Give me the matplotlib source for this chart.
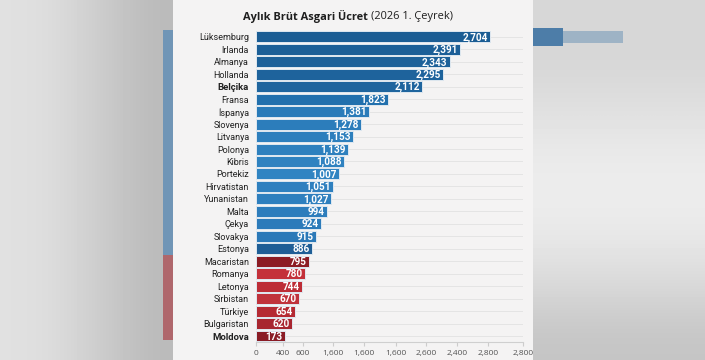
import numpy as np
import matplotlib
matplotlib.use("Agg")
from matplotlib import pyplot as plt
from matplotlib.patches import Rectangle

# data
countries = ["Lüksemburg", "Irlanda", "Almanya", "Hollanda", "Belçika", "Fransa",
             "İspanya", "Slovenya", "Litvanya", "Polonya", "Kibris", "Portekiz",
             "Hirvatistan", "Yunanistan", "Malta", "Çekya", "Slovakya", "Estonya",
             "Macaristan", "Romanya", "Letonya", "Sirbistan", "Türkiye",
             "Bulgaristan", "Moldova"]
wage_labels = ["2,704", "2,391", "2,343", "2,295", "2,112", "1,823", "1,381",
               "1,278", "1,153", "1,139", "1,088", "1,007", "1,051", "1,027",
               "994", "924", "915", "886", "795", "780", "744", "670", "654",
               "620", "173"]
# drawn bar lengths on the (odd) axis of the original chart
bar_lengths = [2454, 2139, 2034, 1961, 1741, 1384, 1185, 1101, 1017, 965, 923,
               870, 807, 787, 745, 682, 629, 587, 556, 514, 482, 451, 409, 378,
               304]
tick_pos = [0, 283, 492, 807, 1132, 1468, 1783, 2108, 2433, 2800]
tick_labels = ["0", "400", "600", "1,600", "1,600", "1,600", "2,600", "2,400",
               "2,800", "2,800"]
bold_rows = ["Belçika", "Moldova"]

bar_colors = ["#1b5d94", "#1c5f97", "#1d6199", "#1e639c", "#1f659e", "#2270ad",
              "#2a7bb9", "#2c7dbb", "#2d7fbd", "#2e80be", "#2f82c0", "#3084c2",
              "#2f80bf", "#2e7fbe", "#2d7dbc", "#2c7bba", "#2b79b8", "#1f5e96",
              "#8c1c24", "#c4313a", "#bd2d36", "#c0323b", "#b52a33", "#a82630",
              "#8a1c25"]

plt.rcParams['font.family'] = ['Open Sans', 'DejaVu Sans']

fig = plt.figure(figsize=(7.05, 3.6), dpi=100)
fig.patch.set_facecolor("#d3d2d4")

# blurred screenshot background + white panel
bg = fig.add_axes([0, 0, 1, 1], zorder=0)
bg.set_xlim(0, 705)
bg.set_ylim(360, 0)
bg.axis("off")
grad = np.array([[0.88, 0.87, 0.84, 0.80, 0.76, 0.73]])
bg.imshow(grad, cmap="gray", vmin=0, vmax=1, extent=(0, 173, 360, 0),
          aspect="auto", interpolation="bicubic")
grad_r = np.array([[0.84], [0.84], [0.88], [0.92], [0.93], [0.90], [0.84], [0.77]])
bg.imshow(grad_r, cmap="gray", vmin=0, vmax=1, extent=(533, 705, 360, 0),
          aspect="auto", interpolation="bicubic")
bg.add_patch(Rectangle((163, 30), 10, 225, color="#3f7db3", alpha=0.6, lw=0))
bg.add_patch(Rectangle((163, 255), 10, 85, color="#a83038", alpha=0.6, lw=0))
bg.add_patch(Rectangle((533, 28), 30, 18, color="#1f5f99", alpha=0.75, lw=0))
bg.add_patch(Rectangle((563, 31), 60, 12, color="#5a88b0", alpha=0.45, lw=0))
bg.add_patch(Rectangle((173, 0), 360, 360, color="#f4f3f3", lw=0))

ax = fig.add_axes([256 / 705, 18.5 / 360, 267 / 705, 310.9 / 360], zorder=1)
ax.set_facecolor("none")

y = np.arange(len(countries))
ax.barh(y, bar_lengths, height=0.88, color=bar_colors, edgecolor="#dfe8f0",
        linewidth=0.7, zorder=3)

for yi, w, lab in zip(y, bar_lengths, wage_labels):
    ax.text(w - 25, yi + 0.05, lab, ha="right", va="center", color="white",
            fontsize=7.2, fontweight="bold", family=["Roboto", "DejaVu Sans"],
            zorder=4)

ax.set_ylim(len(countries) - 0.56, -0.5)
ax.set_xlim(0, 2800)
ax.set_yticks(y)
ax.set_yticklabels(countries, fontsize=6.5, color="#222222",
                   family=["Roboto", "DejaVu Sans"])
for t in ax.get_yticklabels():
    if t.get_text() in bold_rows:
        t.set_fontweight("bold")
        t.set_fontsize(6.8)
ax.tick_params(axis="y", length=0, pad=5)
ax.set_xticks(tick_pos)
ax.set_xticklabels(tick_labels, fontsize=6, color="#555555")
ax.tick_params(axis="x", length=3, color="#cccccc", pad=3)

ax.grid(axis="y", color="#e4e4e4", linewidth=0.7, zorder=0)
for s in ["top", "right", "left"]:
    ax.spines[s].set_visible(False)
ax.spines["bottom"].set_color("#cfcfcf")
ax.spines["bottom"].set_linewidth(0.8)

fig.text(368 / 705, 1 - 16 / 360, "Aylık Brüt Asgari Ücret", ha="right",
         va="center", fontsize=7.9, fontweight="bold", color="#1e1e1e")
fig.text(371 / 705, 1 - 16 / 360, "(2026 1. Çeyrek)", ha="left",
         va="center", fontsize=7.9, color="#1e1e1e")

plt.savefig("out.png", dpi=100)
